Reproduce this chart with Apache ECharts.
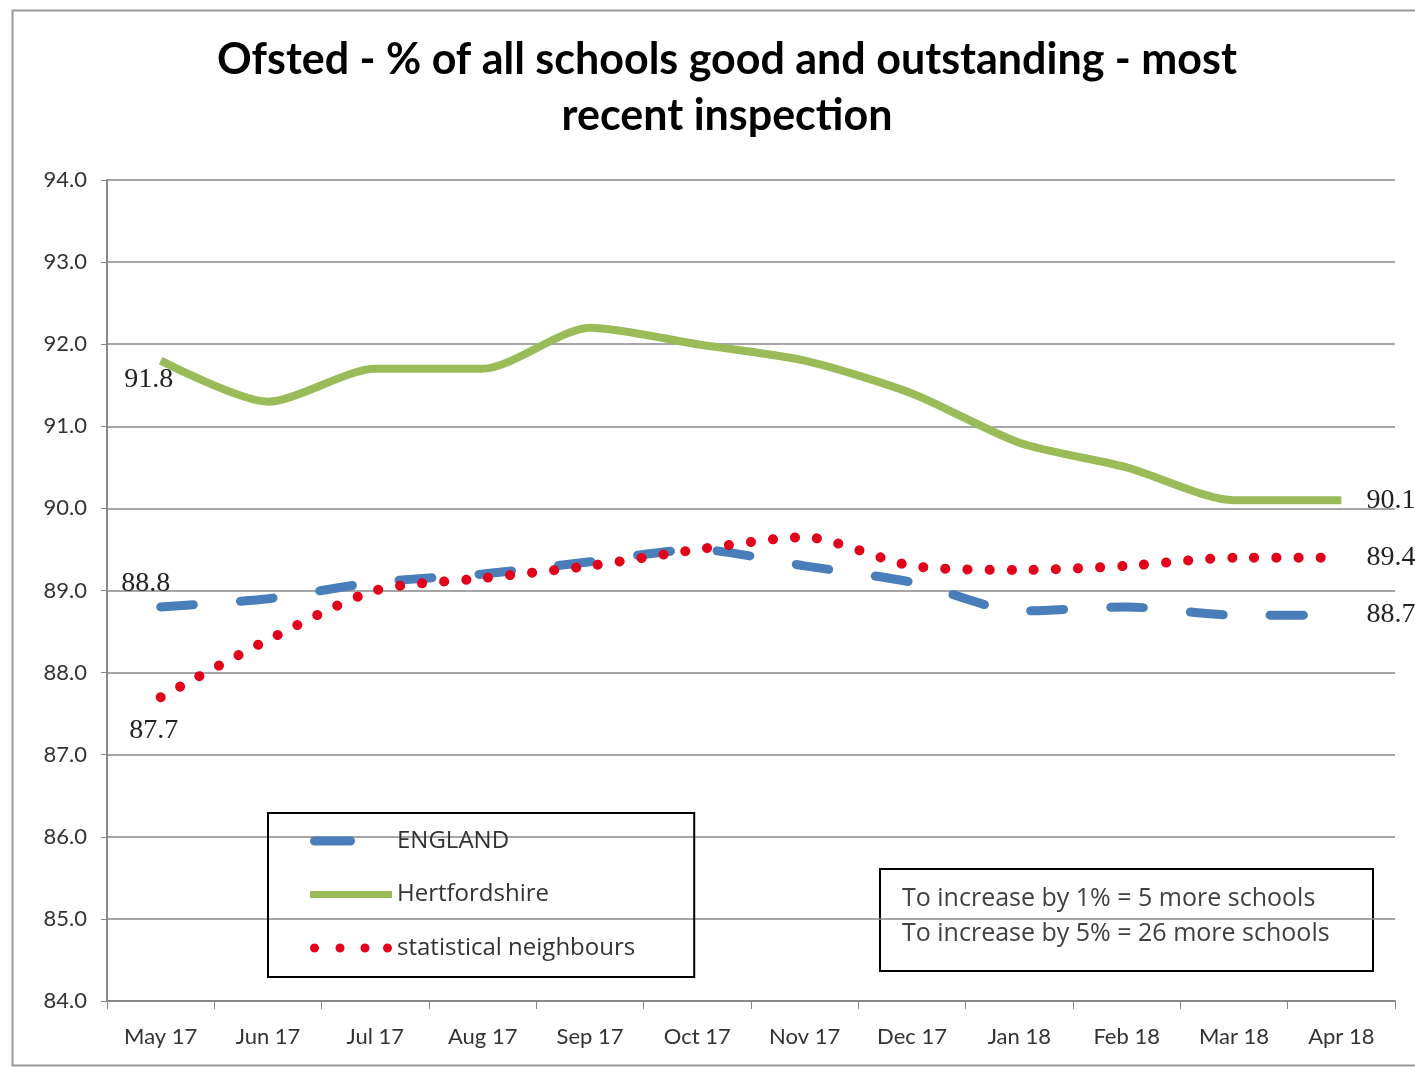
<!DOCTYPE html>
<html>
<head>
<meta charset="utf-8">
<script src="https://cdn.jsdelivr.net/npm/echarts@6/dist/echarts.min.js"></script>
<style>
html,body{margin:0;padding:0;background:#fff;}
#chart{width:1415px;height:1067px;}
</style>
</head>
<body>
<div id="chart"></div>
<script>
var categories = ['May 17','Jun 17','Jul 17','Aug 17','Sep 17','Oct 17','Nov 17','Dec 17','Jan 18','Feb 18','Mar 18','Apr 18'];
var england = [88.8, 88.9, 89.1, 89.2, 89.35, 89.5, 89.3, 89.1, 88.75, 88.8, 88.7, 88.7];
var hertfordshire = [91.8, 91.3, 91.7, 91.7, 92.2, 92.0, 91.8, 91.4, 90.8, 90.5, 90.1, 90.1];
var neighbours = [87.7, 88.4, 89.0, 89.15, 89.3, 89.5, 89.65, 89.3, 89.25, 89.3, 89.4, 89.4];
var yTicks = [84, 94, 1];
var titleText = 'Ofsted - % of all schools good and outstanding - most\nrecent inspection';
var noteLines = ['To increase by 1% = 5 more schools', 'To increase by 5% = 26 more schools'];

var FONT = 'Lato, "Open Sans", sans-serif';
var BOXFONT = '"Open Sans", Lato, sans-serif';
var LBL_FONT = '"Liberation Serif", "DejaVu Serif", serif';

// legend icon shapes (drawn in an 82 x 9 box)
var ICON_DASH = 'path://M4.5,0 L40.5,0 A4.5,4.5 0 0 1 40.5,9 L4.5,9 A4.5,4.5 0 0 1 4.5,0 Z M81.98,4.49 L82,4.49 L82,4.51 L81.98,4.51 Z';
var ICON_LINE = 'path://M0,1 L82,1 L82,8 L0,8 Z M0,0 L0.02,0 L0.02,0.02 Z M0,9 L0.02,9 L0.02,8.98 Z';
var ICON_DOTS = 'path://M0,4.5 A4.5,4.5 0 1 0 9,4.5 A4.5,4.5 0 1 0 0,4.5 Z M25.5,4.5 A4.5,4.5 0 1 0 34.5,4.5 A4.5,4.5 0 1 0 25.5,4.5 Z M50.5,4.5 A4.5,4.5 0 1 0 59.5,4.5 A4.5,4.5 0 1 0 50.5,4.5 Z M73,4.5 A4.5,4.5 0 1 0 82,4.5 A4.5,4.5 0 1 0 73,4.5 Z';

function labelled(values, first, last) {
  var n = values.length;
  return values.map(function (v, i) {
    var item = { value: v };
    if (i === 0 && first) item.label = Object.assign({ show: true }, first);
    if (i === n - 1 && last) item.label = Object.assign({ show: true }, last);
    return item;
  });
}
var lblBase = { color: '#222', fontSize: 28, fontFamily: LBL_FONT, formatter: function (p) { return p.value.toFixed(1); } };

var chart = echarts.init(document.getElementById('chart'), null, { renderer: 'canvas' });
chart.setOption({
  backgroundColor: '#fff',
  animation: false,
  title: {
    text: titleText,
    left: 722, top: 27, textAlign: 'center',
    textStyle: { fontFamily: FONT, fontWeight: 'bold', fontSize: 43, lineHeight: 56, color: '#000' }
  },
  grid: { left: 107, right: 20, top: 180, bottom: 66, containLabel: false },
  legend: {
    orient: 'vertical', left: 268, top: 813,
    padding: [16, 59, 17, 42],
    borderColor: '#000', borderWidth: 2,
    itemWidth: 82, itemHeight: 9, itemGap: 29.5,
    symbolKeepAspect: false,
    textStyle: { fontFamily: BOXFONT, fontSize: 24, color: '#333', lineHeight: 24, padding: [0, 0, 0, 0] },
    data: [
      { name: 'ENGLAND', icon: ICON_DASH },
      { name: 'Hertfordshire', icon: ICON_LINE },
      { name: 'statistical neighbours', icon: ICON_DOTS }
    ]
  },
  xAxis: {
    type: 'category', data: categories, boundaryGap: true,
    axisLine: { lineStyle: { color: '#888', width: 2 } },
    axisTick: { show: true, length: 8, lineStyle: { color: '#888' }, alignWithLabel: false },
    axisLabel: { fontFamily: FONT, fontSize: 22, color: '#333', margin: 25 },
    splitLine: { show: false }
  },
  yAxis: {
    type: 'value', min: yTicks[0], max: yTicks[1], interval: yTicks[2],
    axisLine: { show: true, lineStyle: { color: '#888', width: 2 } },
    axisTick: { show: true, length: 6, lineStyle: { color: '#888' } },
    axisLabel: { fontFamily: FONT, fontSize: 22, color: '#333', margin: 20, formatter: function (v) { return v.toFixed(1); } },
    splitLine: { show: true, lineStyle: { color: '#888', width: 1.5 } }
  },
  series: [
    {
      name: 'ENGLAND', type: 'line', smooth: 0.25, symbol: 'circle', symbolSize: 0.1, showSymbol: true,
      data: labelled(england,
        Object.assign({}, lblBase, { position: 'top', offset: [-15, -4] }),
        Object.assign({}, lblBase, { position: 'right', offset: [20, 0] })),
      lineStyle: { color: '#4a7ebb', width: 9, type: [33, 47], cap: 'round' },
      itemStyle: { color: '#4a7ebb' },
      z: 3
    },
    {
      name: 'Hertfordshire', type: 'line', smooth: 0.25, symbol: 'circle', symbolSize: 0.1, showSymbol: true,
      data: labelled(hertfordshire,
        Object.assign({}, lblBase, { position: 'bottom', offset: [-12, 0] }),
        Object.assign({}, lblBase, { position: 'right', offset: [20, 0] })),
      lineStyle: { color: '#9bbb59', width: 8, type: 'solid' },
      itemStyle: { color: '#9bbb59' },
      z: 2
    },
    {
      name: 'statistical neighbours', type: 'line', smooth: 0.25, symbol: 'circle', symbolSize: 0.1, showSymbol: true,
      data: labelled(neighbours,
        Object.assign({}, lblBase, { position: 'bottom', offset: [-7, 14] }),
        Object.assign({}, lblBase, { position: 'right', offset: [20, 0] })),
      lineStyle: { color: '#e3001b', width: 10, type: [0.1, 22], cap: 'round' },
      itemStyle: { color: '#e3001b' },
      z: 4
    }
  ],
  graphic: [
    {
      type: 'rect', left: 10, top: 8, z: -10, silent: true,
      shape: { width: 1420, height: 1055 },
      style: { fill: 'none', stroke: '#999', lineWidth: 2 }
    },
    {
      type: 'group', left: 879, top: 868, z: 100,
      children: [
        { type: 'rect', shape: { x: 0, y: 0, width: 493, height: 102 }, style: { fill: '#fff', stroke: '#000', lineWidth: 2 } },
        { type: 'text', x: 22, y: 30, style: { text: noteLines[0], fontFamily: BOXFONT, fontSize: 25, fill: '#404040', verticalAlign: 'middle' } },
        { type: 'text', x: 22, y: 65, style: { text: noteLines[1], fontFamily: BOXFONT, fontSize: 25, fill: '#404040', verticalAlign: 'middle' } }
      ]
    }
  ]
});
</script>
</body>
</html>
